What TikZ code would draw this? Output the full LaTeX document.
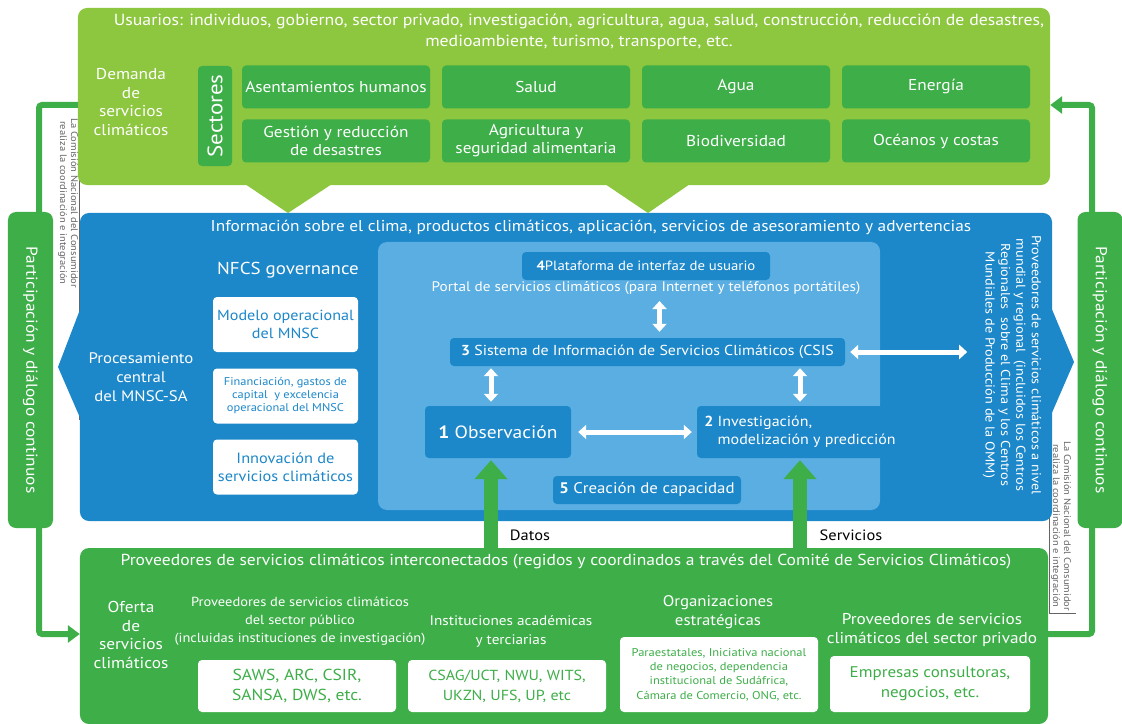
\documentclass[tikz,border=0pt]{standalone}
\usepackage{fontspec}
\setmainfont{PT Sans}[FakeStretch=1.1]
\usetikzlibrary{positioning,arrows.meta}
\definecolor{verdeclaro}{RGB}{141,198,63}
\definecolor{verde}{RGB}{62,174,73}
\definecolor{azul}{RGB}{28,135,201}
\definecolor{azulclaro}{RGB}{90,174,225}
\definecolor{grisl}{RGB}{100,100,100}
\newcommand{\fs}[2]{\fontsize{#1}{#2}\selectfont}
\begin{document}
\begin{tikzpicture}[x=1bp,y=-1bp,
  panel/.style={rounded corners=9bp,inner sep=0pt},
  sector/.style={fill=verde,rounded corners=4bp,minimum width=188bp,minimum height=43bp,text=white,align=center,inner sep=1bp,font=\fs{15.8}{18}},
  caja/.style={fill=azul,rounded corners=4bp,text=white,inner sep=4bp,minimum height=28bp},
  blanca/.style={fill=white,rounded corners=4bp,minimum width=145bp,minimum height=55bp,align=center,inner sep=1bp},
  pill/.style={fill=verde,rounded corners=8bp,minimum width=316bp,minimum height=45bp,text=white,font=\fs{15.9}{18}},
  texto/.style={text=white,align=center},
  nota/.style={text=grisl,align=center,font=\fs{9.6}{11}},
  lazo/.style={draw=verde,line width=6bp,rounded corners=3bp,-{Triangle[width=17bp,length=12bp]}},
  doble/.style={draw=white,line width=5bp,>={Triangle[width=14bp,length=8bp]},<->},
  subida/.style={draw=verde,line width=14bp,-{Triangle[width=32bp,length=19bp]}}]
\useasboundingbox (0,0) rectangle (1122,724);
% marcos finos de las notas
\draw[grisl,line width=0.6bp] (79,100) -- (79,420);
\draw[grisl,line width=0.6bp] (1049,440) -- (1049,613) -- (1076,613);
% paneles
\node[panel,fill=verdeclaro,minimum width=972bp,minimum height=177bp] (demanda) at (564,96.5) {};
\fill[verdeclaro] (245,184) -- (332,184) -- (288,213) -- cycle;
\fill[verdeclaro] (605,184) -- (690,184) -- (648,213) -- cycle;
\node[panel,fill=azul,minimum width=972bp,minimum height=308bp] (info) at (566,367) {};
\fill[azul] (81,307) -- (58,367) -- (81,420) -- cycle;
\fill[azul] (1051,307) -- (1074,362) -- (1051,415) -- cycle;
\node[panel,fill=verde,minimum width=968bp,minimum height=176bp] (oferta) at (564,636) {};
% lazos
\coordinate (izqa) at (39,105);
\coordinate (izqb) at (39,634);
\coordinate (dera) at (1092,105);
\coordinate (derb) at (1092,634);
\draw[lazo] (demanda.west |- izqa) -- (izqa) -- (izqb) -- (oferta.west |- izqb);
\draw[lazo] (oferta.east |- derb) -- (derb) -- (dera) -- (demanda.east |- dera);
\node[pill,rotate=-90] (partizq) at (30.5,370) {Participación y diálogo continuos};
\node[pill,rotate=-90] (partder) at (1100,370) {Participación y diálogo continuos};
\node[nota,rotate=-90] (notaizq) at (68,203) {La Comisión Nacional del Consumidor\\realiza la coordinación e integración};
\node[nota,rotate=-90] (notader) at (1061,526) {La Comisión Nacional del Consumidor\\realiza la coordinación e integración};
% demanda
\node[texto,font=\fs{16.2}{21}] (usuarios) at (579,32) {Usuarios: individuos, gobierno, sector privado, investigación, agricultura, agua, salud, construcción, reducción de desastres,\\medioambiente, turismo, transporte, etc.};
\node[texto,font=\fs{15.8}{19}] (dem) at (131,102) {Demanda\\de\\servicios\\climáticos};
\node[sector,minimum width=100bp,minimum height=34bp,rotate=90,font=\fs{21}{21}] (sectores) at (215,116) {Sectores};
\node[sector] (s1) at (336,87) {Asentamientos humanos};
\node[sector] (s2) at (536,87) {Salud};
\node[sector] (s3) at (736,87) {Agua};
\node[sector] (s4) at (936,87) {Energía};
\node[sector] (s5) at (336,141) {Gestión y reducción\\de desastres};
\node[sector] (s6) at (536,141) {Agricultura y\\seguridad alimentaria};
\node[sector] (s7) at (736,141) {Biodiversidad};
\node[sector] (s8) at (936,141) {Océanos y costas};
% informacion
\node[texto,font=\fs{15.8}{18}] (titinfo) at (591,227) {Información sobre el clima, productos climáticos, aplicación, servicios de asesoramiento y advertencias};
\node[panel,fill=azulclaro,minimum width=502bp,minimum height=268bp] (interior) at (629,376) {};
\node[texto,font=\fs{17.3}{20}] (gob) at (288,270) {NFCS governance};
\node[blanca,text=azul,font=\fs{14.7}{18}] (modelo) at (285.5,324.5) {Modelo operacional\\del MNSC};
\node[blanca,text=azul,font=\fs{11.3}{13}] (finan) at (285.5,396) {Financiación, gastos de\\capital\ \ y excelencia\\operacional del MNSC};
\node[blanca,text=azul,font=\fs{14.9}{18}] (innov) at (285.5,467) {Innovación de\\servicios climáticos};
\node[texto,font=\fs{15.3}{19}] (proc) at (141,377) {Procesamiento\\central\\del MNSC-SA};
\node[texto,rotate=-90,font=\fs{13}{15.5}] (mundial) at (1012,365) {Proveedores de servicios climáticos a nivel\\mundial y regional\ \ (incluidos los Centros\\Regionales\ \ sobre el Clima y los Centros\\Mundiales de Producción de la OMM)};
\node[caja,minimum width=248bp,font=\fs{13.5}{16}] (b4) at (646,266) {\textbf{4}Plataforma de interfaz de usuario};
\node[texto,font=\fs{13.9}{15}] (portal) at (646,288) {Portal de servicios climáticos (para Internet y teléfonos portátiles)};
\node[caja,minimum width=395bp,font=\fs{14.5}{17}] (b3) at (647.5,352) {\textbf{3} Sistema de Información de Servicios Climáticos (CSIS};
\node[caja,minimum width=146bp,minimum height=52bp,font=\fs{17.8}{19}] (b1) at (498,432) {\textbf{1} Observación};
\node[caja,minimum width=206bp,minimum height=52bp,font=\fs{14.6}{18},align=left] (b2) at (800,432) {\textbf{2} Investigación,\\\hphantom{\textbf{2} }modelización y predicción};
\node[caja,minimum width=188bp,font=\fs{15.4}{17}] (b5) at (647,490) {\textbf{5} Creación de capacidad};
\coordinate (p1) at ([xshift=-7bp]b1.north);
\coordinate (p4) at ([xshift=12bp]b3.north);
\draw[doble,shorten <=3bp,shorten >=6bp] (p4 |- portal.south) -- (p4);
\draw[doble,shorten <=2bp,shorten >=4bp] (p1 |- b3.south) -- (p1);
\draw[doble,shorten <=2bp,shorten >=4bp] (b2.north |- b3.south) -- (b2.north);
\draw[doble,shorten <=7bp,shorten >=5bp] (b1.east) -- (b2.west);
\draw[doble,shorten <=5bp,shorten >=12bp] (b3.east) -- (b3.east -| mundial.south);
% oferta
\coordinate (d1) at ([xshift=-7bp]b1.south);
\draw[subida] (d1 |- oferta.north) -- ([yshift=-2bp]d1);
\draw[subida] (b2.south |- oferta.north) -- ([yshift=-2bp]b2.south);
\node[font=\fs{15}{16}] (datos) at (530,535) {Datos};
\node[font=\fs{15}{16}] (serv) at (851,535) {Servicios};
\node[texto,font=\fs{16}{18}] (tito) at (566,562) {Proveedores de servicios climáticos interconectados (regidos y coordinados a través del Comité de Servicios Climáticos)};
\node[texto,font=\fs{15.8}{19}] (ofer) at (131,635) {Oferta\\de\\servicios\\climáticos};
\node[texto,font=\fs{13.2}{18}] (publico) at (300,621) {Proveedores de servicios climáticos\\del sector público\\(incluidas instituciones de investigación)};
\node[blanca,text=verde,minimum width=198bp,minimum height=52bp,font=\fs{16}{20}] (saws) at (297,686) {SAWS, ARC, CSIR,\\SANSA, DWS, etc.};
\node[texto,font=\fs{13.9}{19}] (acad) at (511,631) {Instituciones académicas\\y terciarias};
\node[blanca,text=verde,minimum width=198bp,minimum height=52bp,font=\fs{14.6}{20}] (csag) at (507,686) {CSAG/UCT, NWU, WITS,\\UKZN, UFS, UP, etc};
\node[texto,font=\fs{15.4}{19}] (estr) at (718,612.5) {Organizaciones\\estratégicas};
\node[blanca,text=verde,minimum width=198bp,minimum height=75bp,font=\fs{11.4}{14.5}] (para) at (719,674.5) {Paraestatales, Iniciativa nacional\\de negocios, dependencia\\institucional de Sudáfrica,\\Cámara de Comercio, ONG, etc.};
\node[texto,font=\fs{15.7}{20}] (priv) at (932,630) {Proveedores de servicios\\climáticos del sector privado};
\node[blanca,text=verde,minimum width=200bp,minimum height=56bp,font=\fs{15.5}{20}] (emp) at (930,684) {Empresas consultoras,\\negocios, etc.};
\end{tikzpicture}
\end{document}
